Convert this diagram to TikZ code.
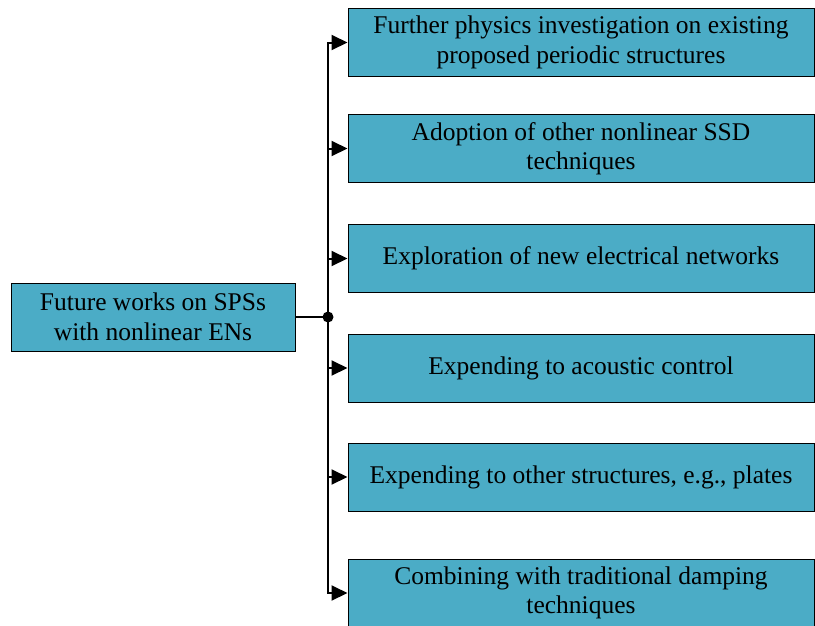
\documentclass[tikz,border=0pt]{standalone}
\usepackage{fontspec}
\setmainfont{Liberation Serif}
\usepackage{tikz}
\usetikzlibrary{arrows.meta}
\definecolor{boxcyan}{HTML}{4BACC6}
\tikzset{
  work_node/.style = {rectangle, draw=black, fill=boxcyan, line width=1pt,
    align=center, inner sep=0pt, text centered,
    font=\fontsize{25.5}{29.5}\selectfont},% boite bleue
  main_node/.style = {work_node, minimum width=284pt, minimum height=68pt},% boite gauche
  item_node/.style = {work_node, minimum width=466pt, minimum height=68pt},% boites droites
  link/.style = {line width=2pt, -{Triangle[length=16pt,width=15pt]}}
}
\begin{document}
\begin{tikzpicture}[x=1pt, y=-1pt]
      \useasboundingbox (0,0) rectangle (815,625);
      \node [main_node] (future) at (153,317) {Future works on SPSs\\with nonlinear ENs};
      \node [item_node] (physics) at (581,42.5) {Further physics investigation on existing\\proposed periodic structures};
      \node [item_node] (ssd) at (581,148.5) {Adoption of other nonlinear SSD\\techniques};
      \node [item_node] (networks) at (581,258.5) {Exploration of new electrical networks};
      \node [item_node] (acoustic) at (581,368) {Expending to acoustic control};
      \node [item_node] (plates) at (581,477) {Expending to other structures, e.g., plates};
      \node [item_node] (damping) at (581,593) {Combining with traditional damping\\techniques};
      \coordinate (hub) at (328,317);
      \draw [line width=2pt] (future.east) -- (hub);
      \foreach \target in {physics, ssd, networks, acoustic, plates, damping}
          \draw [link] (hub) |- (\target.west);
      \fill (hub) circle (5.5pt);
\end{tikzpicture}
\end{document}
